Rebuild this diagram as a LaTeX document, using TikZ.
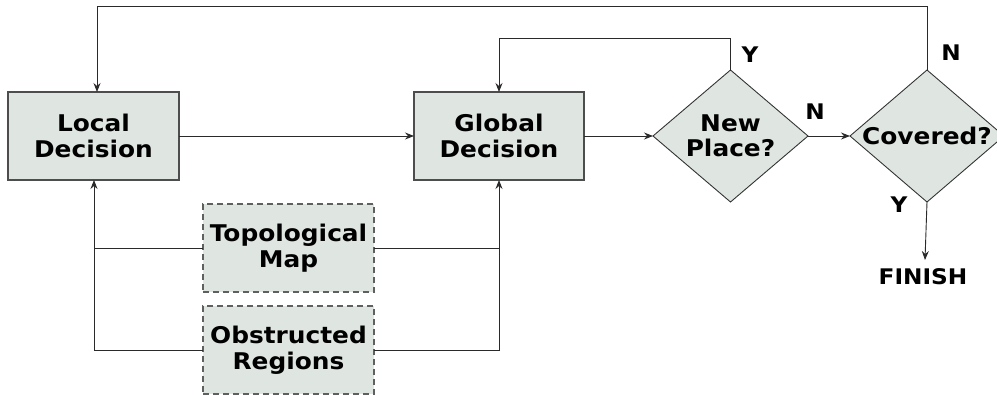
\documentclass[tikz,border=0pt]{standalone}
\usepackage{fontspec}
\setmainfont{DejaVu Sans}[BoldFont={DejaVu Sans Bold},BoldFeatures={FakeStretch=1.08}]
\usetikzlibrary{shapes.geometric,arrows.meta}
\definecolor{boxfill}{HTML}{DFE6E1}
\definecolor{boxline}{HTML}{4D4D4D}
\definecolor{wire}{HTML}{2A2A2A}
\tikzset{
  proc/.style={draw=boxline,line width=1.2pt,fill=boxfill,minimum width=171pt,minimum height=88pt,inner sep=0pt,outer sep=0pt,align=center,font=\fontsize{23}{25.5}\selectfont\bfseries},
  store/.style={proc,draw=boxline!90,dash pattern=on 6pt off 4pt},
  dec/.style={diamond,draw=black!80,line width=0.9pt,fill=boxfill,minimum width=155pt,minimum height=132pt,inner sep=0pt,outer sep=0pt},
  dtext/.style={align=center,font=\fontsize{23}{25.5}\selectfont\bfseries},
  lbl/.style={font=\fontsize{21.5}{24}\selectfont\bfseries,inner sep=0pt},
  wireline/.style={draw=wire,line width=0.9pt},
  arr/.style={wireline,-{Stealth[length=9pt,width=7pt,inset=3pt]}}
}
\begin{document}
\begin{tikzpicture}[x=1pt,y=-1pt]
\useasboundingbox (0,0) rectangle (997,394);
\node[proc] (loc) at (93.5,136) {Local\\Decision};
\node[proc,minimum width=170pt] (glob) at (499,136) {Global\\Decision};
\node[store] (topo) at (288.5,248) {Topological\\Map};
\node[store] (obs) at (288.5,350) {Obstructed\\Regions};
\node[dec] (np) at (730.5,136) {};
\node[dtext] (npt) at (np) {New\\Place?};
\node[dec,minimum width=154pt] (cov) at (927,136) {};
\node[dtext] (covt) at (cov) {Covered?};
\node[lbl] (fin) at (923,277) {FINISH};
\node[lbl] (ynp) at (750,55) {Y};
\node[lbl] (nnp) at (815,112) {N};
\node[lbl] (ncov) at (951,53) {N};
\node[lbl] (ycov) at (899,205) {Y};
\coordinate (t1) at (927,6);
\coordinate (t2) at (97,6);
\coordinate (s1) at (730.5,38);
\coordinate (s2) at (499,38);
\coordinate (lb) at (94,180);
\coordinate (gb) at (499,180);
\coordinate (fe) at (925,260);
% connectors
\draw[arr] (loc.east) -- (glob.west);
\draw[arr] (glob.east) -- (np.west);
\draw[arr] (np.east) -- (cov.west);
\draw[arr] (np.north) -- (s1) -- (s2) -- (glob.north);
\draw[arr] (cov.north) -- (t1) -- (t2) -- (t2 |- loc.north);
\draw[arr] (cov.south) -- (fe);
\draw[arr] (obs.west) -| (lb);
\draw[wireline] (topo.west) -- (lb |- topo.west);
\draw[arr] (obs.east) -| (gb);
\draw[wireline] (topo.east) -- (gb |- topo.east);
\end{tikzpicture}
\end{document}
